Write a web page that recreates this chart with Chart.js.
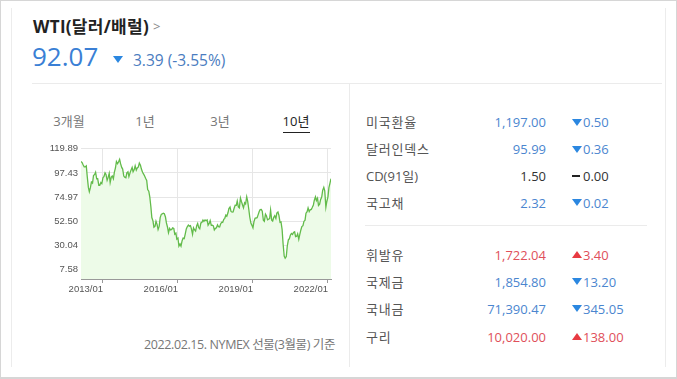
<!DOCTYPE html>
<html>
<head>
<meta charset="utf-8">
<title>WTI</title>
<script src="https://cdn.jsdelivr.net/npm/chart.js"></script>
<style>
    body {
        margin: 0;
        width: 677px;
        height: 379px;
        position: relative;
        overflow: hidden;
        background: #fff;
        font-family: "Open Sans", "Noto Sans CJK KR", sans-serif;
    }
    .frame {
        position: absolute;
        left: 0; top: 0;
        width: 677px; height: 379px;
        box-sizing: border-box;
        border: 1px solid #d6d6d6;
        border-bottom-width: 2px;
    }
    .card {
        position: absolute;
        left: 11px; top: 8px;
        width: 653px; height: 359px;
        border-left: 1px solid #ececec;
        border-right: 1px solid #ececec;
    }
    .t {
        position: absolute;
        white-space: nowrap;
        line-height: 20px;
    }
    .hline { position: absolute; height: 1px; background: #ebebeb; }
    .vline { position: absolute; width: 1px; background: #ebebeb; }
    .down, .up {
        position: absolute;
        width: 0; height: 0;
        border-left: 5px solid transparent;
        border-right: 5px solid transparent;
    }
    .down { border-top: 7px solid #2b87e0; }
    .up { border-bottom: 7px solid #e83a42; }
    .flat { position: absolute; width: 8px; height: 2px; background: #222; }
    .lab { left: 366px; font-size: 13px; color: #555; letter-spacing: 0.8px; }
    .val { left: 446px; width: 100px; text-align: right; font-size: 13px; }
    .chg { left: 583px; font-size: 13px; }
    .blue { color: #4b86cf; }
    .red { color: #e0505a; }
    .blk { color: #333; }
    .tab { font-size: 13px; color: #777; width: 60px; text-align: center; }
    #wrap {
        position: absolute;
        left: 30px; top: 140px;
        width: 310px; height: 160px;
    }
</style>
</head>
<body>
    <div class="frame"></div>
    <div class="card"></div>

    <div class="t" style="left:33px; top:17px; font-size:17px; letter-spacing:0.3px; font-weight:bold; color:#222;">WTI(달러/배럴)</div>
    <div class="t" style="left:153px; top:16px; font-size:13px; color:#888;">&gt;</div>
    <div class="t" style="left:32px; top:40px; font-size:26px; line-height:32px; color:#3a7fd5;">92.07</div>
    <div class="down" style="left:113px; top:56px;"></div>
    <div class="t" style="left:133px; top:50px; font-size:15.5px; color:#4a7cc0;">3.39 (-3.55%)</div>

    <div class="hline" style="left:32px; top:83px; width:630px;"></div>
    <div class="vline" style="left:349px; top:83px; height:284px;"></div>

    <div class="t tab" style="left:39px; top:111px;">3개월</div>
    <div class="t tab" style="left:115px; top:111px;">1년</div>
    <div class="t tab" style="left:190px; top:111px;">3년</div>
    <div class="t tab" style="left:266px; top:111px; color:#222;">10년</div>
    <div class="hline" style="left:283px; top:132px; width:27px; background:#222;"></div>

    <div id="wrap"><canvas id="myChart"></canvas></div>

    <div class="t" style="left:115px; width:220px; text-align:right; top:335px; font-size:12.5px; letter-spacing:-0.4px; color:#777;">2022.02.15. NYMEX 선물(3월물) 기준</div>

    <!-- right side table -->
    <div class="t lab" style="top:112px;">미국환율</div>
    <div class="t val blue" style="top:112px;">1,197.00</div>
    <div class="down" style="left:572px; top:119px;"></div>
    <div class="t chg blue" style="top:112px;">0.50</div>

    <div class="t lab" style="top:139px;">달러인덱스</div>
    <div class="t val blue" style="top:139px;">95.99</div>
    <div class="down" style="left:572px; top:146px;"></div>
    <div class="t chg blue" style="top:139px;">0.36</div>

    <div class="t lab" style="top:166px; letter-spacing:0;">CD(91일)</div>
    <div class="t val blk" style="top:166px;">1.50</div>
    <div class="flat" style="left:572px; top:175px;"></div>
    <div class="t chg blk" style="top:166px;">0.00</div>

    <div class="t lab" style="top:193px;">국고채</div>
    <div class="t val blue" style="top:193px;">2.32</div>
    <div class="down" style="left:572px; top:199px;"></div>
    <div class="t chg blue" style="top:193px;">0.02</div>

    <div class="hline" style="left:365px; top:225px; width:282px;"></div>

    <div class="t lab" style="top:245px;">휘발유</div>
    <div class="t val red" style="top:245px;">1,722.04</div>
    <div class="up" style="left:572px; top:251px;"></div>
    <div class="t chg red" style="top:245px;">3.40</div>

    <div class="t lab" style="top:272px;">국제금</div>
    <div class="t val blue" style="top:272px;">1,854.80</div>
    <div class="down" style="left:572px; top:278px;"></div>
    <div class="t chg blue" style="top:272px;">13.20</div>

    <div class="t lab" style="top:299px;">국내금</div>
    <div class="t val blue" style="top:299px;">71,390.47</div>
    <div class="down" style="left:572px; top:305px;"></div>
    <div class="t chg blue" style="top:299px;">345.05</div>

    <div class="t lab" style="top:327px;">구리</div>
    <div class="t val red" style="top:327px;">10,020.00</div>
    <div class="up" style="left:572px; top:333px;"></div>
    <div class="t chg red" style="top:327px;">138.00</div>

    <script>
        // WTI, twice a month (1st and 15th)
        const wti2012 = [108, 107, 105, 103, 103, 104, 94, 84, 80, 84, 89, 88, 95, 96, 98, 92, 92, 86, 86, 88.5, 87.5];
        const wti2013 = [93, 94, 97.5, 96, 90.5, 93, 97, 88.5, 93.5, 94.5, 92, 98, 102, 108, 106, 107.5, 110, 106, 102.5, 101, 94.5, 93.5, 93, 97.5];
        const wti2014 = [98.5, 94, 97.5, 100, 102.5, 98.5, 100.5, 104, 100, 102, 103, 106.5, 104.5, 101, 98, 96.5, 94.5, 92.5, 90.5, 82, 80.5, 75.5, 66, 56];
        const wti2015 = [53, 47, 48, 52.5, 49.5, 45, 48, 56, 59, 59.5, 60, 59.5, 56.5, 51, 47, 42, 46, 44.5, 45, 46.5, 46, 40.5, 41.5, 36];
        const wti2016 = [37, 29.5, 31.5, 29.5, 34.5, 37, 36.5, 40.5, 45.5, 47.5, 49, 48, 48.5, 45.5, 40.5, 46.5, 44.5, 43.5, 48.5, 50.5, 46.5, 45.5, 51, 51.5];
        const wti2017 = [53.7, 52.5, 53.8, 53.1, 53.8, 48.9, 50.6, 53.2, 48.8, 48.9, 48.3, 44.5, 46, 46.5, 49.2, 47.5, 47.3, 50, 51.7, 51.5, 54.3, 55.3, 58.4, 57.3];
        const wti2018 = [60.4, 64.3, 65.8, 61.7, 61, 61.2, 64.9, 67.4, 67.3, 71.3, 65.8, 65, 74.1, 71, 67.7, 65, 69.8, 68.6, 75.3, 71.3, 63.7, 56.5, 50.9, 49];
        const wti2019 = [46.5, 52, 55.3, 55.6, 55.8, 58.5, 61.6, 63.4, 63.6, 62, 53.5, 52.5, 59.1, 57.6, 53.9, 54.5, 55.1, 62.9, 53.6, 52.8, 56.2, 57.7, 55.2, 60.2];
        const wti2020 = [61.2, 58, 51.6, 52, 44.8, 31.7, 20.3, 18.3, 19.8, 29.4, 35.4, 36.3, 39.9, 41.2, 40.3, 42.2, 42.8, 38.3, 38.7, 40.9, 35.8, 40.1, 44.5, 47.6];
        const wti2021 = [48.5, 52.4, 53.6, 60, 61.5, 65, 61.5, 63.2, 63.6, 65.4, 67.7, 72.1, 75.2, 71.7, 73.9, 67.3, 68.5, 72.6, 75, 81.3, 84, 80.8, 65.6, 70.9];
        const wti2022 = [75.2, 83.8, 88.2, 92.07];

        const prices = [].concat(wti2012, wti2013, wti2014, wti2015, wti2016, wti2017,
                                 wti2018, wti2019, wti2020, wti2021, wti2022);

        // dates: 1st and 15th of every month from 2012-02-15 to 2022-02-15 (as decimal years)
        const dates = [];
        for (let y = 2012; y <= 2022; y++) {
            for (let m = 0; m < 12; m++) {
                for (const d of [1, 15]) {
                    const key = y * 10000 + (m + 1) * 100 + d;
                    if (key < 20120215 || key > 20220215) continue;
                    dates.push(y + m / 12 + (d - 1) / 365);
                }
            }
        }

        const xTicks = [2013, 2016, 2019, 2022];
        const xTickLabels = ['2013/01', '2016/01', '2019/01', '2022/01'];
        const yTicks = [7.58, 30.04, 52.50, 74.97, 97.43, 119.89];

        const points = prices.map((p, i) => ({ x: dates[i], y: p }));

        window.addEventListener('load', function() {
            const ctx = document.getElementById('myChart');
            new Chart(ctx, {
                type: 'line',
                data: {
                    datasets: [{
                        data: points,
                        borderColor: '#62bb4a',
                        borderWidth: 1.3,
                        backgroundColor: '#edfbe8',
                        fill: 'start',
                        pointRadius: 0,
                        tension: 0
                    }]
                },
                options: {
                    responsive: true,
                    maintainAspectRatio: false,
                    animation: false,
                    layout: {
                        padding: { left: 0, right: 9, top: 8, bottom: 0 }
                    },
                    scales: {
                        x: {
                            type: 'linear',
                            min: dates[0],
                            max: dates[dates.length - 1],
                            afterBuildTicks: s => { s.ticks = xTicks.map(v => ({ value: v })); },
                            afterFit: s => { s.height = 21; },
                            grid: { color: '#e6e6e6', tickColor: '#999', tickLength: 4 },
                            border: { color: '#999' },
                            ticks: {
                                align: 'end',
                                padding: 1,
                                maxRotation: 0,
                                autoSkip: false,
                                color: '#555',
                                font: { family: 'Liberation Sans', size: 9.5 },
                                callback: (v, i) => xTickLabels[i]
                            }
                        },
                        y: {
                            min: -1,
                            max: 119.89,
                            afterBuildTicks: s => { s.ticks = yTicks.map(v => ({ value: v })); },
                            afterFit: s => { s.width = 51; },
                            grid: { color: '#e6e6e6', drawTicks: false },
                            border: { display: false },
                            ticks: {
                                padding: 3,
                                color: '#555',
                                font: { family: 'Liberation Sans', size: 9.5 },
                                callback: v => v.toFixed(2)
                            }
                        }
                    },
                    plugins: {
                        legend: { display: false },
                        tooltip: { enabled: false }
                    }
                }
            });
        });
    </script>
</body>
</html>
